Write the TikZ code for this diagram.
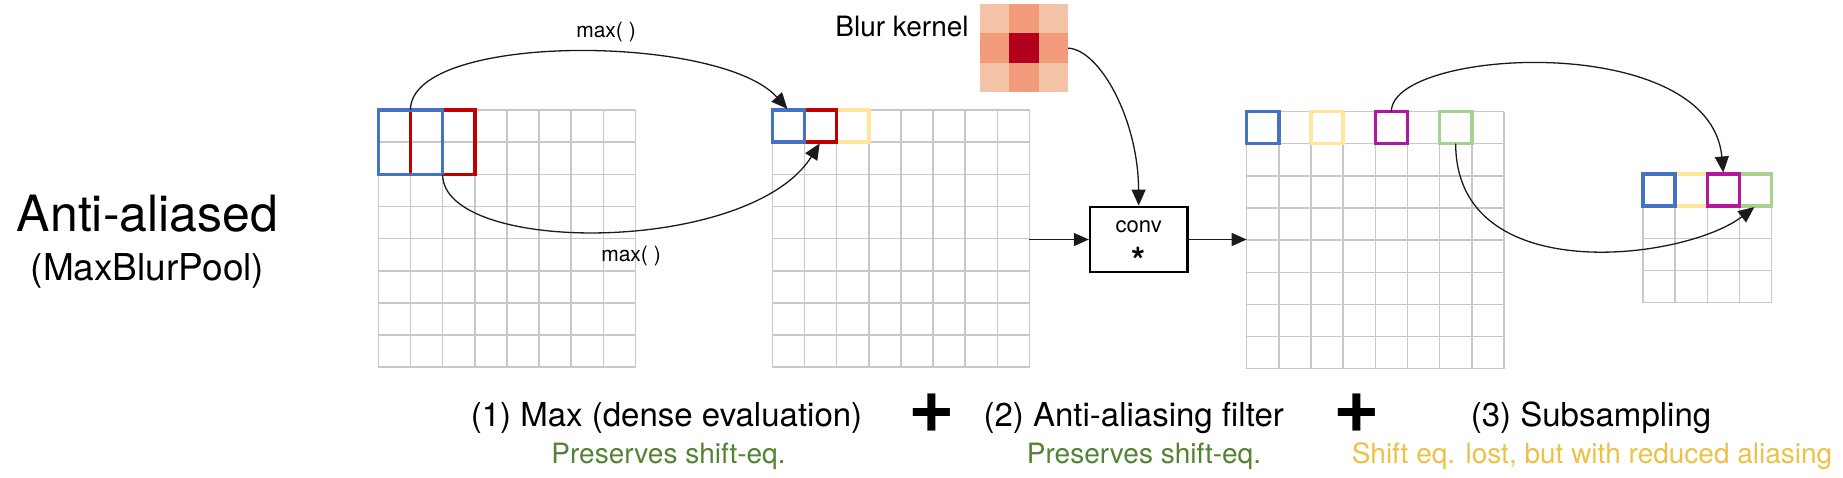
\documentclass[tikz,border=0pt]{standalone}
\usepackage{fontspec}
\setmainfont{TeX Gyre Heros}
\usetikzlibrary{arrows.meta}
\definecolor{cblue}{HTML}{4472C4}
\definecolor{cred}{HTML}{C00000}
\definecolor{cyellow}{HTML}{FFE699}
\definecolor{cmag}{HTML}{B4169C}
\definecolor{cgreen}{HTML}{A9D18E}
\definecolor{tgreen}{HTML}{548235}
\definecolor{tgold}{HTML}{ECC148}
\definecolor{gridgray}{HTML}{C8C8C8}
\definecolor{arcgray}{HTML}{1A1A1A}
\definecolor{kc}{HTML}{F4C3A7}
\definecolor{ke}{HTML}{F29B7A}
\definecolor{kd}{HTML}{B1001E}
\newcommand{\setfs}[1]{\fontsize{#1}{#1}\selectfont}
\def\cs{32.15}
\newcommand{\drawgrid}[3]{%
  \foreach \k in {0,...,#3}{%
    \draw[gridline] ({#1+\k*\cs},#2) -- ({#1+\k*\cs},{#2+#3*\cs});
    \draw[gridline] (#1,{#2+\k*\cs}) -- ({#1+#3*\cs},{#2+\k*\cs});
  }}
\begin{document}
\begin{tikzpicture}[x=1pt,y=-1pt,
  gridline/.style={draw=gridgray, line width=1.5pt},
  cbox/.style={draw=#1, line width=3.5pt, minimum width=32.15pt, minimum height=32.15pt, inner sep=0pt, outer sep=0pt, anchor=north west},
  cboxtwo/.style={cbox=#1, minimum width=64.3pt, minimum height=64.3pt},
  arc/.style={draw=arcgray, line width=1.3pt, -{Triangle[length=16pt,width=14pt]}},
  flow/.style={draw=arcgray, line width=1.3pt, -{Triangle[length=15pt,width=13pt]}},
  lbl/.style={anchor=base, inner sep=0pt},
  convbox/.style={draw=black, line width=2.5pt, minimum width=97.3pt, minimum height=65.4pt, inner sep=0pt, outer sep=0pt}
]
\useasboundingbox (0,0) rectangle (1843,477);

% grids
\drawgrid{378.3}{110}{8}
\drawgrid{772.3}{110}{8}
\drawgrid{1246.7}{111.5}{8}
\drawgrid{1643}{174}{4}

% grid 1 windows
\node[cboxtwo=cred] (r1) at (410.45,110) {};
\node[cboxtwo=cblue] (b1) at (378.3,110) {};
% grid 2 cells
\node[cbox=cyellow] (y2) at (836.6,110) {};
\node[cbox=cred] (r2) at (804.45,110) {};
\node[cbox=cblue] (b2) at (772.3,110) {};
% grid 3 cells
\node[cbox=cblue] (b3) at (1246.7,111.5) {};
\node[cbox=cyellow] (y3) at (1311.0,111.5) {};
\node[cbox=cmag] (m3) at (1375.3,111.5) {};
\node[cbox=cgreen] (gr3) at (1439.6,111.5) {};
% grid 4 cells
\node[cbox=cyellow] (y4) at (1675.15,174) {};
\node[cbox=cblue] (b4) at (1643,174) {};
\node[cbox=cgreen] (gr4) at (1739.45,174) {};
\node[cbox=cmag] (m4) at (1707.3,174) {};

% blur kernel
\node[minimum width=88.2pt, minimum height=88.2pt, inner sep=0pt, outer sep=0pt, anchor=north west] (kernel) at (980,4) {};
\foreach \i/\j/\c in {0/0/kc,1/0/ke,2/0/kc,0/1/ke,1/1/kd,2/1/ke,0/2/kc,1/2/ke,2/2/kc}{
  \fill[fill=\c] ({980+\i*29.4},{4+\j*29.4}) rectangle +(29.4,29.4);
}
\node[lbl, font=\setfs{28}] (blurlbl) at (902,36.5) {Blur kernel};

% conv box
\node[convbox] (conv) at (1138.7,239.5) {};
\node[lbl, font=\setfs{22}] (convtxt) at (1138.7,232.4) {conv};
\node[lbl, font=\setfs{36}\bfseries] (convstar) at (1138.7,273) {*};
\coordinate (g2e) at (1029.3,239.5);
\coordinate (g3w) at (1246.7,239.5);

% connectors
\draw[arc, shorten >=1.5pt] (r1.north west) .. controls +(0,-78) and +(-68.3,-76.3) .. (b2.north);
\draw[arc, shorten >=1.5pt] (b1.south east) .. controls +(0,81) and +(-71,113) .. (r2.south);
\draw[arc, shorten >=1.2pt] (kernel.east) .. controls +(32,2) and +(-0.5,-87) .. (conv.north);
\draw[flow, shorten >=1.2pt] (g2e) -- (conv.west);
\draw[flow] (conv.east) -- (g3w);
\draw[arc, shorten >=1.5pt] (m3.north) .. controls +(0,-63.5) and +(-13,-144) .. (m4.north);
\draw[arc, shorten >=1.5pt] (gr3.south) .. controls +(0,146) and +(-70,54) .. (gr4.south);

% labels
\node[lbl, font=\setfs{21}] (maxtop) at (606,37.5) {max( )};
\node[lbl, font=\setfs{21}] (maxbot) at (631,261.5) {max( )};
\node[lbl, font=\setfs{50}] (title) at (147.5,231.7) {Anti-aliased};
\node[lbl, font=\setfs{37}] (subtitle) at (147.5,280) {(MaxBlurPool)};

\node[lbl, font=\setfs{33}] (s1) at (666.5,426.7) {(1) Max (dense evaluation)};
\node[lbl, font=\setfs{33}] (s2) at (1133.7,426.7) {(2) Anti-aliasing filter};
\node[lbl, font=\setfs{33}] (s3) at (1591,426.7) {(3) Subsampling};
\node[lbl, font=\setfs{80}\bfseries] (p1) at (931.7,432.7) {+};
\node[lbl, font=\setfs{80}\bfseries] (p2) at (1357,432.7) {+};
\node[lbl, font=\setfs{28}, text=tgreen] (e1) at (668.5,463.5) {Preserves shift-eq.};
\node[lbl, font=\setfs{28}, text=tgreen] (e2) at (1144,463.5) {Preserves shift-eq.};
\node[lbl, font=\setfs{28}, text=tgold] (e3) at (1592,463.5) {Shift eq. lost, but with reduced aliasing};
\end{tikzpicture}
\end{document}
